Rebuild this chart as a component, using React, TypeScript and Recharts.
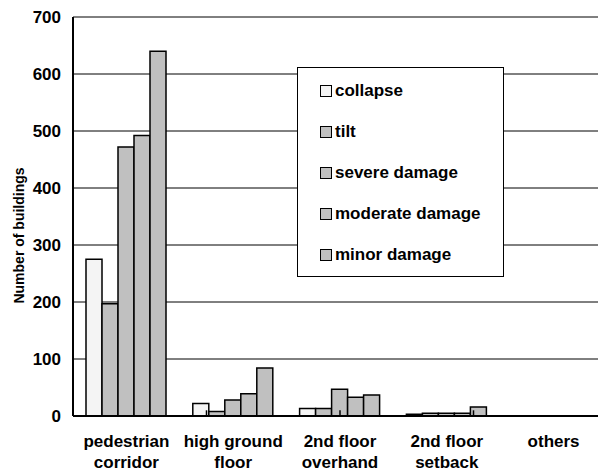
import {
  Bar,
  BarChart,
  CartesianGrid,
  Legend,
  ReferenceLine,
  XAxis,
  YAxis,
} from "recharts";

const categories = [
  "pedestrian\ncorridor",
  "high ground\nfloor",
  "2nd floor\noverhand",
  "2nd floor\nsetback",
  "others",
];
const collapse = [275, 22, 13, 3, 0];
const tilt = [197, 8, 13, 5, 0];
const severe = [472, 28, 47, 5, 0];
const moderate = [492, 39, 33, 5, 0];
const minor = [640, 84, 37, 16, 0];
const yTicks = [0, 100, 200, 300, 400, 500, 600, 700];
const groupEdges = [1, 2, 3, 4];

const series = [
  { key: "collapse", name: "collapse", values: collapse, fill: "#f4f4f4" },
  { key: "tilt", name: "tilt", values: tilt, fill: "#c0c0c0" },
  { key: "severe", name: "severe damage", values: severe, fill: "#c0c0c0" },
  { key: "moderate", name: "moderate damage", values: moderate, fill: "#c0c0c0" },
  { key: "minor", name: "minor damage", values: minor, fill: "#c0c0c0" },
];

const data = categories.map((c, i) => {
  const row: Record<string, string | number> = { category: c };
  series.forEach((s) => (row[s.key] = s.values[i]));
  return row;
});

const font = "'Liberation Sans', Arial, sans-serif";

function CategoryTick({ x, y, payload }: any) {
  const lines = String(payload.value).split("\n");
  return (
    <text x={x} y={y} textAnchor="middle" fontFamily={font} fontWeight="bold" fontSize={17} fill="#000">
      {lines.map((l, i) => (
        <tspan key={i} x={x} dy={i === 0 ? 30.5 : 21.5}>
          {l}
        </tspan>
      ))}
    </text>
  );
}

function YLabel({ viewBox }: any) {
  const cx = viewBox.x + 19;
  const cy = viewBox.y + viewBox.height / 2 + 19;
  return (
    <text
      x={cx}
      y={cy}
      transform={`rotate(-90, ${cx}, ${cy})`}
      textAnchor="middle"
      dominantBaseline="central"
      fontFamily={font}
      fontWeight="bold"
      fontSize={14}
      fill="#000"
    >
      Number of buildings
    </text>
  );
}

// legend drawn straight from the series list so the order stays as plotted
function LegendBox() {
  return (
    <div
      style={{
        width: 207,
        height: 210,
        boxSizing: "border-box",
        border: "1.5px solid #000",
        background: "#fff",
        padding: "2px 0 0 22px",
        fontFamily: font,
        fontWeight: "bold",
        fontSize: 17,
        color: "#000",
      }}
    >
      {series.map((s) => (
        <div key={s.key} style={{ display: "flex", alignItems: "center", height: 41 }}>
          <span
            style={{
              width: 12,
              height: 12,
              boxSizing: "border-box",
              border: "1.5px solid #000",
              background: s.fill,
              marginRight: 3,
              flex: "none",
            }}
          />
          <span>{s.name}</span>
        </div>
      ))}
    </div>
  );
}

export default function App() {
  return (
    <div
      style={{
        position: "absolute",
        left: 0,
        top: 0,
        width: 598,
        height: 474,
        overflow: "hidden",
        background: "#fff",
      }}
    >
      <BarChart
        width={612}
        height={474}
        data={data}
        margin={{ top: 17, right: 5, left: 0, bottom: 0 }}
        barCategoryGap={13}
        barGap={0}
      >
        <CartesianGrid xAxisId="cat" vertical={false} stroke="#000" strokeWidth={1} />
        <XAxis
          xAxisId="cat"
          dataKey="category"
          height={58}
          interval={0}
          tick={<CategoryTick />}
          tickLine={false}
          tickSize={0}
          tickMargin={0}
          axisLine={{ stroke: "#000", strokeWidth: 2 }}
        />
        <XAxis xAxisId="edge" type="number" domain={[0, 5]} allowDataOverflow hide />
        <YAxis
          width={73}
          domain={[0, 700]}
          ticks={yTicks}
          interval={0}
          tickLine={false}
          tickSize={0}
          tickMargin={12}
          axisLine={{ stroke: "#000", strokeWidth: 2 }}
          tick={{ fontFamily: font, fontWeight: "bold", fontSize: 17, fill: "#000" }}
          label={<YLabel />}
        />
        {groupEdges.map((e) => (
          <ReferenceLine
            key={e}
            xAxisId="edge"
            segment={[
              { x: e, y: 0 },
              { x: e, y: 10 },
            ]}
            stroke="#000"
            strokeWidth={1.5}
          />
        ))}
        {series.map((s) => (
          <Bar
            key={s.key}
            xAxisId="cat"
            dataKey={s.key}
            name={s.name}
            fill={s.fill}
            stroke="#000"
            strokeWidth={1.5}
            isAnimationActive={false}
          />
        ))}
        <Legend
          layout="vertical"
          align="center"
          verticalAlign="middle"
          wrapperStyle={{ left: 297, top: 67, width: 207, height: 210 }}
          content={<LegendBox />}
        />
      </BarChart>
    </div>
  );
}
